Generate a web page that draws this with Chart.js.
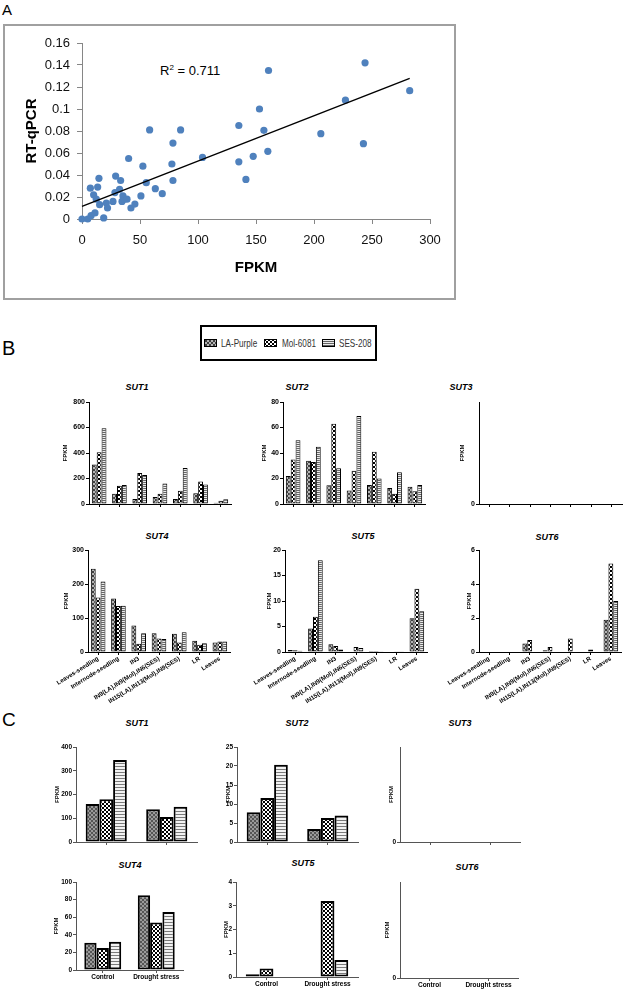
<!DOCTYPE html>
<html><head><meta charset="utf-8">
<script src="https://cdn.jsdelivr.net/npm/chart.js@4.4.1/dist/chart.umd.min.js"></script>
<style>
body{margin:0;width:624px;height:990px;position:relative;background:#fff;font-family:"Liberation Sans",Arial,sans-serif;overflow:hidden}
canvas{position:absolute}
.t{position:absolute;white-space:nowrap;color:#000}
.lg{position:absolute;white-space:nowrap;color:#333;font-size:11px;line-height:12px;transform:scaleX(0.74);transform-origin:0 0}
.ttl{position:absolute;font:italic bold 9px "Liberation Sans",Arial,sans-serif;transform:translate(-50%,-50%);white-space:nowrap}
</style></head><body>
<div class="t" style="left:2px;top:1px;font-size:15px">A</div>
<div style="position:absolute;left:3px;top:24px;width:453px;height:276px;border:2px solid #a0a0a0;box-sizing:border-box"></div>
<div class="t" style="left:160px;top:63px;font-size:13px;line-height:16px">R<sup style="font-size:8px;vertical-align:5px;line-height:0">2</sup> = 0.711</div>
<div class="t" style="left:2px;top:337px;font-size:20px">B</div>
<div style="position:absolute;left:200px;top:325px;width:177px;height:36px;border:2px solid #000;box-sizing:border-box"></div>
<div class="lg" style="left:221px;top:337px">LA-Purple</div>
<div class="lg" style="left:282px;top:337px">Mol-6081</div>
<div class="lg" style="left:339px;top:337px">SES-208</div>
<div class="t" style="left:2px;top:709px;font-size:19px">C</div>
<div class="ttl" style="left:137px;top:387px">SUT1</div>
<div class="ttl" style="left:297px;top:387px">SUT2</div>
<div class="ttl" style="left:461px;top:387px">SUT3</div>
<div class="ttl" style="left:157px;top:536px">SUT4</div>
<div class="ttl" style="left:363px;top:536px">SUT5</div>
<div class="ttl" style="left:547px;top:537px">SUT6</div>
<div class="ttl" style="left:137px;top:723px">SUT1</div>
<div class="ttl" style="left:297px;top:723px">SUT2</div>
<div class="ttl" style="left:460px;top:723px">SUT3</div>
<div class="ttl" style="left:130px;top:865px">SUT4</div>
<div class="ttl" style="left:303px;top:863px">SUT5</div>
<div class="ttl" style="left:467px;top:867px">SUT6</div>
<script>
// ---------- DATA ----------
const scatterFPKM = [0,4.9,7.2,7.8,10,11.2,12.3,13.5,14.6,15.2,18.7,21,22,26.7,28.4,29,32.4,33.3,34.5,35.3,36.5,38.8,40.2,42.2,45.6,50.8,52.5,55.4,58.3,63.2,69.2,77.5,78.4,78.4,85,103.9,135.2,135.2,141.3,147.6,153,156.8,160.2,160.8,205.9,227.1,242.6,244,282.5];
const scatterQPCR = [0,0,0.028,0.003,0.022,0.0055,0.018,0.029,0.037,0.013,0.001,0.0145,0.010,0.016,0.024,0.039,0.027,0.035,0.016,0.021,0.018,0.018,0.055,0.010,0.0136,0.021,0.048,0.033,0.081,0.0276,0.023,0.050,0.069,0.035,0.081,0.056,0.085,0.052,0.036,0.057,0.100,0.0806,0.0615,0.135,0.0776,0.108,0.0685,0.142,0.1167];
const trendSlope = 0.000412;
const trendIntercept = 0.0114;
const xTicksA = [0,50,100,150,200,250,300];

const cultivars = ['LA-Purple','Mol-6081','SES-208'];
const tissues = ['Leaves-seedling','Internode-seedling','IN3','IN9(LA),IN9(Mol),IN6(SES)','IN15(LA),IN13(Mol),IN9(SES)','LR','Leaves'];
const conditions = ['Control','Drought stress'];

// tissue expression [LA-Purple, Mol-6081, SES-208]
const tisSUT1 = [[310,80,40,55,40,85,10],[405,143,243,80,103,176,25],[595,150,228,160,282,152,38]];
const tisSUT2 = [[22,34,14.7,10.5,15,12.5,13.5],[35,33,63,26,41,8,10],[50,45,28,69,20,25,15]];
const tisSUT3 = [[0,0,0,0,0,0,0],[0,0,0,0,0,0,0],[0,0,0,0,0,0,0]];
const tisSUT4 = [[245,157,78,55,54,33,28],[160,135,24,40,28,21,31],[207,136,55,38,58,26,31]];
const tisSUT5 = [[0.4,4.6,1.5,0.1,0.2,0.1,6.6],[0.35,6.9,1.2,1.0,0.2,0.05,12.4],[0.25,18,0.5,0.8,0.15,0.15,8.0]];
const tisSUT6 = [[0,0,0.5,0.1,0,0,1.9],[0,0,0.7,0.3,0.8,0.15,5.2],[0,0,0,0,0,0,3.0]];

// drought experiment [LA-Purple, Mol-6081, SES-208]
const drSUT1 = [[160,138],[180,105],[345,148]];
const drSUT2 = [[7.8,3.4],[11.6,6.3],[20.3,7.0]];
const drSUT3 = [[0,0],[0,0],[0,0]];
const drSUT4 = [[31,85],[25,54],[32,66]];
const drSUT5 = [[0.12,0],[0.36,3.2],[0,0.72]];
const drSUT6 = [[0,0],[0,0],[0,0]];

// ---------- RENDER ----------
Chart.defaults.font.family = '"Liberation Sans", Arial, sans-serif';
Chart.defaults.color = '#000';

function tile(w,h,draw){const c=document.createElement('canvas');c.width=w;c.height=h;const g=c.getContext('2d');draw(g);return g.createPattern(c,'repeat');}
function cross(base,dark){return g=>{g.fillStyle=base;g.fillRect(0,0,4,4);g.fillStyle=dark;for(let i=0;i<4;i++){g.fillRect(i,i,1,1);g.fillRect(3-i,i,1,1);}};}
function checker(g){g.fillStyle='#fff';g.fillRect(0,0,4,4);g.fillStyle='#000';g.fillRect(0,0,2,2);g.fillRect(2,2,2,2);}
const patB = [
  tile(4,4,cross('#b4b4b4','#404040')),
  tile(4,4,checker),
  tile(1,2,g=>{g.fillStyle='#ececec';g.fillRect(0,0,1,2);g.fillStyle='#666';g.fillRect(0,0,1,1);})
];
const patC = [
  tile(4,4,cross('#9a9a9a','#555')),
  tile(4,4,checker),
  tile(1,3,g=>{g.fillStyle='#f2f2f2';g.fillRect(0,0,1,3);g.fillStyle='#7a7a7a';g.fillRect(0,0,1,1);})
];

function swatch(x,y,pat){const c=document.createElement('canvas');c.width=13;c.height=8;c.style.left=x+'px';c.style.top=y+'px';const g=c.getContext('2d');g.fillStyle=pat;g.fillRect(0,0,13,8);g.strokeStyle='#000';g.lineWidth=1;g.strokeRect(0.5,0.5,12,7);document.body.appendChild(c);}
swatch(204,339,patB[0]); swatch(264,339,patB[1]); swatch(322,339,patB[2]);

function place(s, cfg){
  const lh = s.titleFont*1.2;
  const left = Math.round(s.l - (s.l - s.yTitle + lh/2) - s.pl);
  const yw = s.l - left - s.pl;
  const top = s.t - s.pt;
  const w = s.r + s.pr - left, h = s.b + s.xh - top;
  const c = document.createElement('canvas');
  c.width=w; c.height=h; c.style.left=left+'px'; c.style.top=top+'px'; c.style.width=w+'px'; c.style.height=h+'px';
  document.body.appendChild(c);
  const o = cfg.options;
  o.responsive=false; o.animation=false; o.maintainAspectRatio=false;
  o.layout={padding:{left:s.pl,top:s.pt,right:s.pr,bottom:0}};
  o.plugins={legend:{display:false},tooltip:{enabled:false}};
  o.scales.x.afterFit = sc=>{sc.height=s.xh;sc.paddingLeft=0;sc.paddingRight=0;};
  o.scales.y.afterFit = sc=>{sc.width=yw;sc.paddingTop=0;sc.paddingBottom=0;};
  o.scales.y.title = {display:true,text:s.yText||'FPKM',font:{size:s.titleFont,weight:'bold'},padding:0,color:'#000'};
  return new Chart(c,cfg);
}

// Panel A scatter
const axGray = '#868686';
place({l:82,t:43,r:430,b:219,yTitle:32,titleFont:15,pl:0,pt:10,pr:22,xh:58,yText:'RT-qPCR'},{
  type:'scatter',
  data:{datasets:[
    {type:'line',data:[{x:0,y:trendIntercept},{x:Math.max(...scatterFPKM),y:trendIntercept+trendSlope*Math.max(...scatterFPKM)}],borderColor:'#000',borderWidth:1.4,pointRadius:0,fill:false,clip:false},
    {type:'scatter',data:scatterFPKM.map((x,i)=>({x,y:scatterQPCR[i]})),backgroundColor:'#4F81BD',borderWidth:0,pointRadius:3.6,clip:false}
  ]},
  options:{scales:{
    x:{type:'linear',min:0,max:300,afterBuildTicks:sc=>{sc.ticks=xTicksA.map(v=>({value:v}));},
       ticks:{font:{size:13},padding:9,color:'#111'},
       grid:{display:true,drawOnChartArea:false,drawTicks:true,tickLength:5,color:axGray},
       border:{display:true,color:axGray,width:1},
       title:{display:true,text:'FPKM',font:{size:15,weight:'bold'},padding:{top:0,bottom:0},color:'#000'}},
    y:{type:'linear',min:0,max:0.16,
       ticks:{stepSize:0.02,font:{size:13},padding:7,color:'#111',callback:v=>String(Number(v.toFixed(2)))},
       grid:{display:true,drawOnChartArea:false,drawTicks:true,tickLength:5,color:axGray},
       border:{display:true,color:axGray,width:1}}
  }}
});

function barCfg(labels, series, pats, bw, catPct, max, step, opt){
  const zeroOnly = max===null;
  return {
    type:'bar',
    data:{labels, datasets:series.map((d,i)=>({label:cultivars[i],data:d,backgroundColor:pats[i],borderColor:'#000',borderWidth:bw,borderSkipped:false,categoryPercentage:catPct,barPercentage:1}))},
    options:{scales:{
      x:{grid:{display:true,drawOnChartArea:false,drawTicks:true,tickLength:3,offset:false,color:opt.axis},
         border:{display:true,color:opt.axis,width:1},
         ticks:{display:opt.showLabels,autoSkip:false,maxRotation:opt.rot,minRotation:opt.rot,font:{size:opt.lblSize,weight:'bold'},padding:0,color:'#000'}},
      y:{min:0,max:zeroOnly?1:max,
         afterBuildTicks: zeroOnly ? (sc=>{sc.ticks=[{value:0}];}) : undefined,
         ticks:{stepSize:zeroOnly?1:step,font:{size:opt.tickSize,weight:'bold'},padding:1,color:'#000'},
         grid:{display:true,drawOnChartArea:false,drawTicks:true,tickLength:3,color:opt.axis},
         border:{display:true,color:opt.axis,width:1}}
    }}
  };
}

const optB1 = {axis:'#000',showLabels:false,rot:0,lblSize:6,tickSize:7};
const optB2 = {axis:'#000',showLabels:true,rot:32,lblSize:6.2,tickSize:7};
const optC1 = {axis:'#555',showLabels:false,rot:0,lblSize:6.5,tickSize:6.5};
const optC2 = {axis:'#555',showLabels:true,rot:0,lblSize:6.5,tickSize:6.5};

// Panel B row 1
place({l:89,t:402,r:231,b:504,yTitle:66,titleFont:6,pl:0,pt:8,pr:4,xh:8}, barCfg(tissues,tisSUT1,patB,1,0.72,800,200,optB1));
place({l:283,t:402,r:425,b:504,yTitle:265,titleFont:6,pl:0,pt:8,pr:4,xh:8}, barCfg(tissues,tisSUT2,patB,1,0.72,80,20,optB1));
place({l:479,t:402,r:622,b:504,yTitle:463,titleFont:6,pl:0,pt:8,pr:2,xh:8}, barCfg(tissues,tisSUT3,patB,1,0.72,null,null,optB1));
// Panel B row 2
place({l:88,t:550,r:230,b:652,yTitle:67,titleFont:6,pl:40,pt:8,pr:4,xh:62}, barCfg(tissues,tisSUT4,patB,1,0.72,300,100,optB2));
place({l:285,t:550,r:427,b:652,yTitle:270,titleFont:6,pl:40,pt:8,pr:4,xh:62}, barCfg(tissues,tisSUT5,patB,1,0.72,20,5,optB2));
place({l:479,t:550,r:621,b:652,yTitle:470,titleFont:6,pl:40,pt:8,pr:3,xh:62}, barCfg(tissues,tisSUT6,patB,1,0.72,6,2,optB2));
// Panel C row 1
place({l:76,t:747,r:197,b:842,yTitle:58,titleFont:6,pl:0,pt:8,pr:4,xh:6}, barCfg(conditions,drSUT1,patC,2,0.68,400,100,optC1));
place({l:237,t:747,r:358,b:842,yTitle:229,titleFont:6,pl:0,pt:8,pr:4,xh:6}, barCfg(conditions,drSUT2,patC,2,0.68,25,5,optC1));
place({l:400,t:747,r:520,b:842,yTitle:392,titleFont:6,pl:0,pt:8,pr:4,xh:6}, barCfg(conditions,drSUT3,patC,2,0.68,null,null,optC1));
// Panel C row 2
place({l:76,t:882,r:183,b:970,yTitle:57,titleFont:6,pl:0,pt:8,pr:8,xh:16}, barCfg(conditions,drSUT4,patC,2,0.69,100,20,optC2));
place({l:236,t:882,r:358,b:977,yTitle:227,titleFont:6,pl:0,pt:8,pr:6,xh:12}, barCfg(conditions,drSUT5,patC,2,0.68,4,1,optC2));
place({l:400,t:882,r:518,b:978,yTitle:388,titleFont:6,pl:0,pt:8,pr:6,xh:12}, barCfg(conditions,drSUT6,patC,2,0.68,null,null,optC2));
</script>
</body></html>
